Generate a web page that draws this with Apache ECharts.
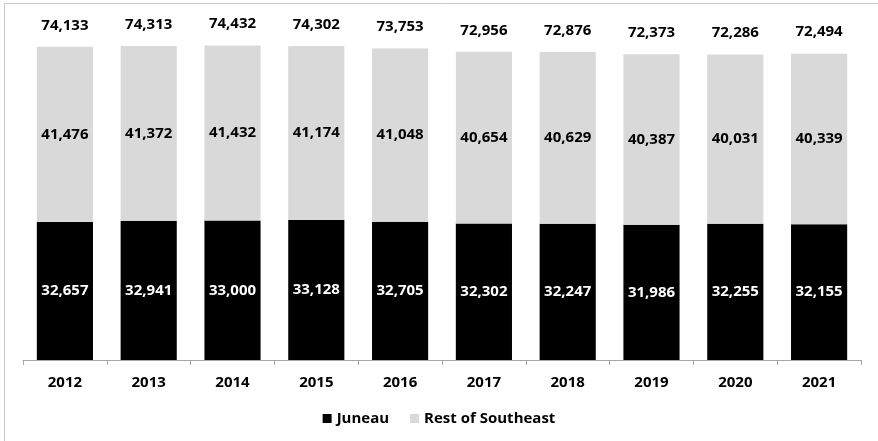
<!DOCTYPE html>
<html>
<head>
<meta charset="utf-8">
<style>
  html, body { margin: 0; padding: 0; background: #fff; }
  #chart { width: 878px; height: 441px; }
</style>
<script src="https://cdn.jsdelivr.net/npm/echarts@6/dist/echarts.min.js"></script>
</head>
<body>
<div id="chart"></div>
<script>
// Population by year: Juneau vs. the rest of Southeast
const years = ['2012', '2013', '2014', '2015', '2016', '2017', '2018', '2019', '2020', '2021'];
const juneau = [32657, 32941, 33000, 33128, 32705, 32302, 32247, 31986, 32255, 32155];
const restOfSoutheast = [41476, 41372, 41432, 41174, 41048, 40654, 40629, 40387, 40031, 40339];

// Regional totals shown above each column
const totals = years.map((_, i) => juneau[i] + restOfSoutheast[i]);

const fmt = v => Number(v).toLocaleString('en-US');
const FONT = '"Open Sans", sans-serif';
const labelText = color => ({
  fontFamily: FONT, fontWeight: 'bold', fontSize: 15, color: color
});

const chart = echarts.init(document.getElementById('chart'), null, { renderer: 'canvas' });

chart.setOption({
  animation: false,
  backgroundColor: '#ffffff',
  graphic: [{
    type: 'rect',
    shape: { x: 4.5, y: 3.5, width: 900, height: 460 },
    style: { fill: 'none', stroke: '#c8c8c8', lineWidth: 1 },
    silent: true
  }],
  grid: { left: 23, right: 17, top: 22, bottom: 81 },
  legend: {
    data: ['Juneau', 'Rest of Southeast'],
    bottom: 10,
    left: 'center',
    icon: 'rect',
    itemWidth: 9,
    itemHeight: 9,
    itemGap: 21,
    textStyle: labelText('#000')
  },
  xAxis: {
    type: 'category',
    data: years,
    axisLine: { lineStyle: { color: '#a6a6a6', width: 1 } },
    axisTick: { show: true, length: 5, lineStyle: { color: '#a6a6a6' } },
    axisLabel: Object.assign({ margin: 15 }, labelText('#000'))
  },
  yAxis: {
    type: 'value',
    min: 0,
    max: 80000,
    show: false,
    splitLine: { show: false }
  },
  series: [
    {
      name: 'Juneau',
      type: 'bar',
      stack: 'pop',
      data: juneau,
      barWidth: '67%',
      itemStyle: { color: '#000000' },
      label: Object.assign({
        show: true,
        position: 'inside',
        formatter: p => fmt(p.value)
      }, labelText('#ffffff'))
    },
    {
      name: 'Rest of Southeast',
      type: 'bar',
      stack: 'pop',
      data: restOfSoutheast,
      barWidth: '67%',
      itemStyle: { color: '#d9d9d9' },
      label: Object.assign({
        show: true,
        position: 'inside',
        formatter: p => fmt(p.value)
      }, labelText('#000000'))
    },
    {
      name: 'Total',
      type: 'line',
      data: totals,
      symbol: 'circle',
      symbolSize: 0,
      showSymbol: true,
      lineStyle: { width: 0, opacity: 0 },
      itemStyle: { opacity: 0 },
      silent: true,
      z: 5,
      label: Object.assign({
        show: true,
        position: 'top',
        distance: 14,
        formatter: p => fmt(p.value),
        opacity: 1
      }, labelText('#000000'))
    }
  ]
});
</script>
</body>
</html>
